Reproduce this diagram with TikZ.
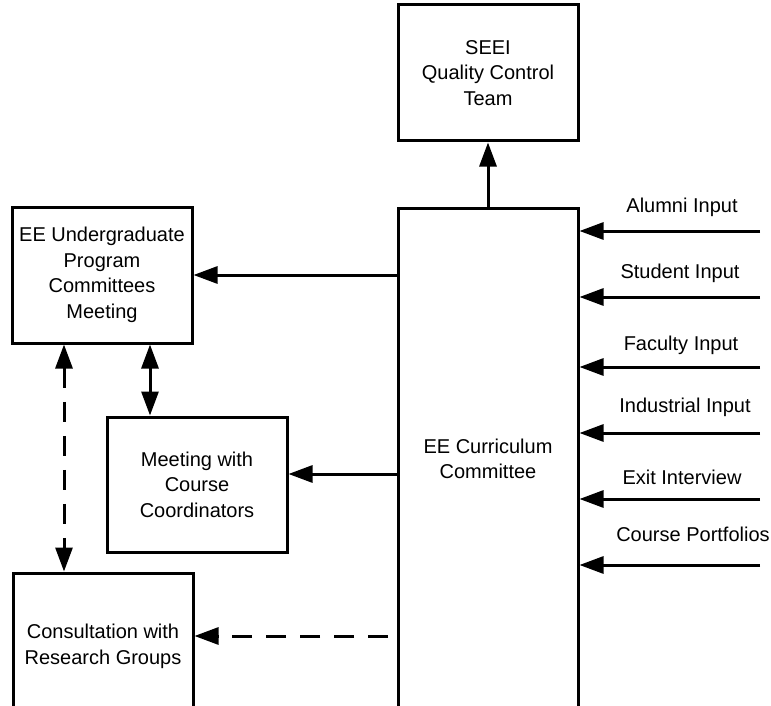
\documentclass[tikz,border=0pt]{standalone}
\usepackage{fontspec}
\setmainfont{Liberation Sans}
\usetikzlibrary{arrows.meta}
\usetikzlibrary{positioning}

\tikzset{
  caja/.style={draw, line width=3pt, minimum width=180pt, align=center},
  punta/.tip={Triangle[length=24pt,width=17pt]},
  flecha/.style={line width=3pt, -punta},
  doble/.style={line width=3pt, punta-punta},
  rayas/.style={dash pattern=on 20pt off 14pt},
  etiq/.style={inner sep=0pt},
}

\begin{document}
\begin{tikzpicture}[x=1pt,y=-1pt,font=\fontsize{20}{25.5}\selectfont]
  \useasboundingbox (0,0) rectangle (771,706);

  % Cajas principales
  \node[caja, minimum height=136pt] (seei) at (488,73) {SEEI\\Quality Control\\Team};
  \node[caja, minimum height=502pt] (curr) at (488,459) {EE Curriculum\\Committee};
  \node[caja, minimum height=136pt] (ugrad) at (102,275) {EE Undergraduate\\Program\\Committees\\Meeting};
  \node[caja, minimum height=135pt] (meet) at (197,484.5) {Meeting with\\Course\\Coordinators};
  \node[caja, minimum height=147pt] (cons) at (103,646.5) {Consultation with\\Research Groups};

  % Entradas (a la derecha)
  \coordinate (in1) at (760,231);
  \coordinate (in2) at (760,297);
  \coordinate (in3) at (760,367);
  \coordinate (in4) at (760,433);
  \coordinate (in5) at (760,499);
  \coordinate (in6) at (760,565);
  \node[etiq] (alumni) at (682,207) {Alumni Input};
  \node[etiq] (student) at (680,273) {Student Input};
  \node[etiq] (faculty) at (681,345) {Faculty Input};
  \node[etiq] (industry) at (685,407) {Industrial Input};
  \node[etiq] (exit) at (682,477) {Exit Interview};
  \node[etiq] (portf) at (693,534) {Course Portfolios};

  % Conexiones
  \draw[flecha] (curr.north) -- (seei.south);
  \draw[flecha] (curr.west |- ugrad.east) -- (ugrad.east);
  \draw[flecha] (curr.west |- 0,474) -- (meet.east |- 0,474);
  \coordinate (dq) at (388,636);
  \draw[flecha, rayas] (dq) -- (dq -| cons.east);
  \draw[doble] (ugrad.south -| 150,0) -- (meet.north -| 150,0);
  \draw[doble, rayas] (ugrad.south -| 64,0) -- (cons.north -| 64,0);
  \draw[flecha] (in1) -- (in1 -| curr.east);
  \draw[flecha] (in2) -- (in2 -| curr.east);
  \draw[flecha] (in3) -- (in3 -| curr.east);
  \draw[flecha] (in4) -- (in4 -| curr.east);
  \draw[flecha] (in5) -- (in5 -| curr.east);
  \draw[flecha] (in6) -- (in6 -| curr.east);
\end{tikzpicture}
\end{document}
